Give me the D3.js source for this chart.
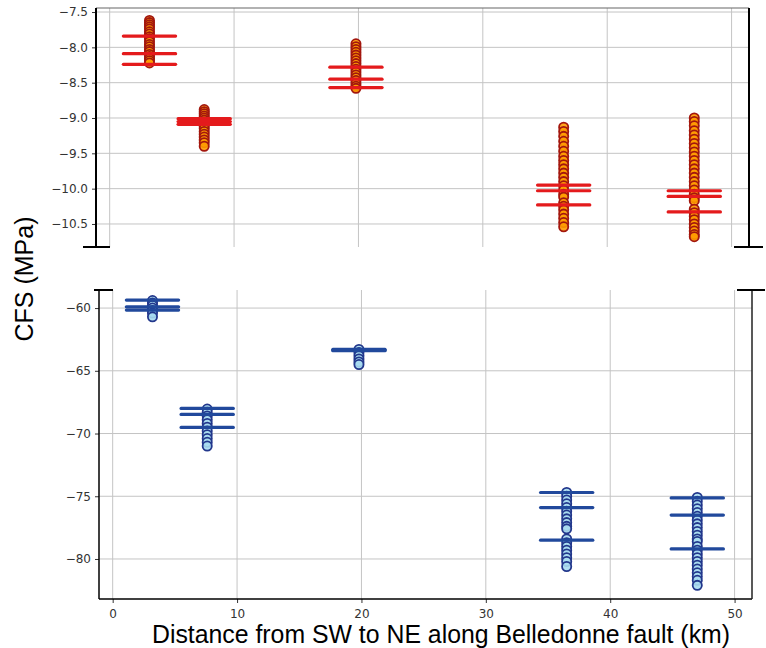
<!DOCTYPE html>
<html>
<head>
<meta charset="utf-8">
<script src="https://cdn.jsdelivr.net/npm/d3@7"></script>
<style>
  body { margin: 0; background: #fff; }
  .tick text { font-family: "DejaVu Sans", sans-serif; font-size: 12px; fill: #333; }
  .axis-label { font-family: "Liberation Sans", Arial, sans-serif; font-size: 25px; fill: #000; }
</style>
</head>
<body>
<div id="chart"></div>
<script>
// site positions along fault (km)
const sites = [3.2, 7.6, 19.8, 36.5, 47.0];
const lineHalfWidth = 2.1; // km

// upper panel (CFS, MPa) - scatter values per site
const upperPoints = [
    [-7.62, -7.65, -7.68, -7.71, -7.74, -7.78, -7.81, -7.85, -7.88, -7.92, -7.96, -7.99, -8.03, -8.06, -8.10, -8.13, -8.16, -8.19, -8.22],
    [-8.88, -8.91, -8.94, -8.97, -9.00, -9.03, -9.06, -9.09, -9.12, -9.15, -9.19, -9.23, -9.27, -9.31, -9.35, -9.40],
    [-7.95, -7.99, -8.03, -8.07, -8.11, -8.15, -8.19, -8.23, -8.27, -8.31, -8.35, -8.39, -8.43, -8.47, -8.51, -8.55, -8.58],
    [-9.13, -9.19, -9.26, -9.33, -9.40, -9.47, -9.54, -9.60, -9.66, -9.72, -9.78, -9.84, -9.90, -9.96, -10.02, -10.08, -10.12, -10.20, -10.25, -10.30, -10.36, -10.42, -10.48, -10.54],
    [-9.00, -9.05, -9.11, -9.18, -9.24, -9.30, -9.36, -9.42, -9.48, -9.54, -9.60, -9.66, -9.72, -9.78, -9.84, -9.90, -9.96, -10.02, -10.08, -10.13, -10.17, -10.29, -10.34, -10.39, -10.44, -10.50, -10.55, -10.60, -10.65, -10.68]
];
const upperLines = [
    [-7.84, -8.09, -8.24],
    [-9.01, -9.05, -9.09],
    [-8.28, -8.45, -8.57],
    [-9.95, -10.03, -10.23],
    [-10.03, -10.11, -10.33]
];
const upperTicks = [-7.5, -8.0, -8.5, -9.0, -9.5, -10.0, -10.5];

// lower panel
const lowerPoints = [
    [-59.4, -59.6, -59.8, -60.0, -60.2, -60.4, -60.7],
    [-68.05, -68.3, -68.6, -68.9, -69.2, -69.5, -69.8, -70.1, -70.4, -70.7, -71.0],
    [-63.3, -63.55, -63.8, -64.05, -64.3, -64.5],
    [-74.7, -75.0, -75.3, -75.6, -75.9, -76.2, -76.5, -76.8, -77.1, -77.4, -77.6, -78.4, -78.7, -79.0, -79.3, -79.6, -79.9, -80.2, -80.6],
    [-75.1, -75.4, -75.7, -76.0, -76.3, -76.6, -76.9, -77.2, -77.5, -77.8, -78.1, -78.4, -78.6, -79.0, -79.3, -79.6, -79.9, -80.2, -80.5, -80.8, -81.1, -81.4, -81.7, -82.1]
];
const lowerLines = [
    [-59.36, -59.9, -60.16],
    [-68.0, -68.48, -69.51],
    [-63.3, -63.35, -63.4],
    [-74.7, -75.9, -78.5],
    [-75.13, -76.5, -79.2]
];
const lowerTicks = [-60, -65, -70, -75, -80];
const xTicks = [0, 10, 20, 30, 40, 50];

const W = 766, H = 648;
const svg = d3.select("#chart").append("svg")
    .attr("width", W)
    .attr("height", H);

function drawPanel(opts) {
    let x = d3.scaleLinear().domain([-1.1, 51.4]).range([opts.left, opts.right]);
    let y = d3.scaleLinear().domain(opts.yDomain).range([opts.top, opts.bottom]);
    let g = svg.append("g");

    // grid
    g.append("g").selectAll("line.hgrid").data(opts.yTicks).join("line")
        .attr("x1", opts.left).attr("x2", opts.right)
        .attr("y1", d => y(d)).attr("y2", d => y(d))
        .attr("stroke", "#c4c4c4").attr("stroke-width", 1);
    g.append("g").selectAll("line.vgrid").data(xTicks).join("line")
        .attr("x1", d => x(d)).attr("x2", d => x(d))
        .attr("y1", opts.top).attr("y2", opts.bottom)
        .attr("stroke", "#c4c4c4").attr("stroke-width", 1);

    // y axis
    let yAxis = g.append("g")
        .attr("transform", `translate(${opts.left},0)`)
        .call(d3.axisLeft(y).tickValues(opts.yTicks).tickSize(4).tickPadding(4)
            .tickFormat(opts.fmt).tickSizeOuter(0));
    yAxis.select(".domain").remove();
    yAxis.selectAll(".tick line").attr("stroke", "#333");

    if (opts.showX) {
        let xAxis = g.append("g")
            .attr("transform", `translate(0,${opts.bottom})`)
            .call(d3.axisBottom(x).tickValues(xTicks).tickSize(4).tickPadding(6).tickSizeOuter(0));
        xAxis.select(".domain").remove();
        xAxis.selectAll(".tick line").attr("stroke", "#333");
    }

    // points
    opts.points.forEach((col, i) => {
        g.append("g").selectAll("circle").data(col).join("circle")
            .attr("cx", x(sites[i]))
            .attr("cy", d => y(d))
            .attr("r", 4.6)
            .attr("fill", opts.fill)
            .attr("fill-opacity", 0.9)
            .attr("stroke", opts.edge)
            .attr("stroke-width", 1.8);
    });

    // horizontal markers
    opts.lines.forEach((col, i) => {
        g.append("g").selectAll("line").data(col).join("line")
            .attr("x1", x(sites[i] - lineHalfWidth))
            .attr("x2", x(sites[i] + lineHalfWidth))
            .attr("y1", d => y(d)).attr("y2", d => y(d))
            .attr("stroke", opts.lineColor)
            .attr("stroke-width", 3.2)
            .attr("stroke-linecap", "round");
    });

    // spines
    opts.spines.forEach(s => {
        g.append("line")
            .attr("x1", s[0]).attr("y1", s[1]).attr("x2", s[2]).attr("y2", s[3])
            .attr("stroke", s[4] || "#111").attr("stroke-width", s[5] || 1.5);
    });
}

// upper panel
drawPanel({
    left: 96, right: 749, top: 8, bottom: 247,
    yDomain: [-7.443, -10.826],
    yTicks: upperTicks,
    fmt: d3.format(".1f"),
    showX: false,
    points: upperPoints, lines: upperLines,
    fill: "#ff9c00", edge: "#a3170e", lineColor: "#e41a1c",
    spines: [
        [96, 8, 749, 8, "#666", 1.2],
        [96, 8, 96, 247, "#000", 2],
        [749, 8, 749, 247, "#000", 2],
        [83, 247, 110, 247, "#000", 2],
        [734, 247, 763, 247, "#000", 2]
    ]
});

// lower panel
drawPanel({
    left: 99, right: 752, top: 290, bottom: 599,
    yDomain: [-58.56, -83.19],
    yTicks: lowerTicks,
    fmt: d3.format("d"),
    showX: true,
    points: lowerPoints, lines: lowerLines,
    fill: "#a8dcef", edge: "#22378c", lineColor: "#21499c",
    spines: [
        [99, 290, 99, 599, "#000", 1.5],
        [99, 599, 752, 599, "#000", 1.5],
        [752, 290, 752, 599, "#222", 1.5],
        [94, 290, 113, 290, "#000", 2],
        [737, 290, 765, 290, "#000", 2]
    ]
});

// axis labels
svg.append("text")
    .attr("class", "axis-label")
    .attr("transform", "translate(33,279) rotate(-90)")
    .attr("text-anchor", "middle")
    .text("CFS (MPa)");

svg.append("text")
    .attr("class", "axis-label")
    .attr("x", 152).attr("y", 643)
    .attr("textLength", 578)
    .attr("lengthAdjust", "spacingAndGlyphs")
    .text("Distance from SW to NE along Belledonne fault (km)");
</script>
</body>
</html>
